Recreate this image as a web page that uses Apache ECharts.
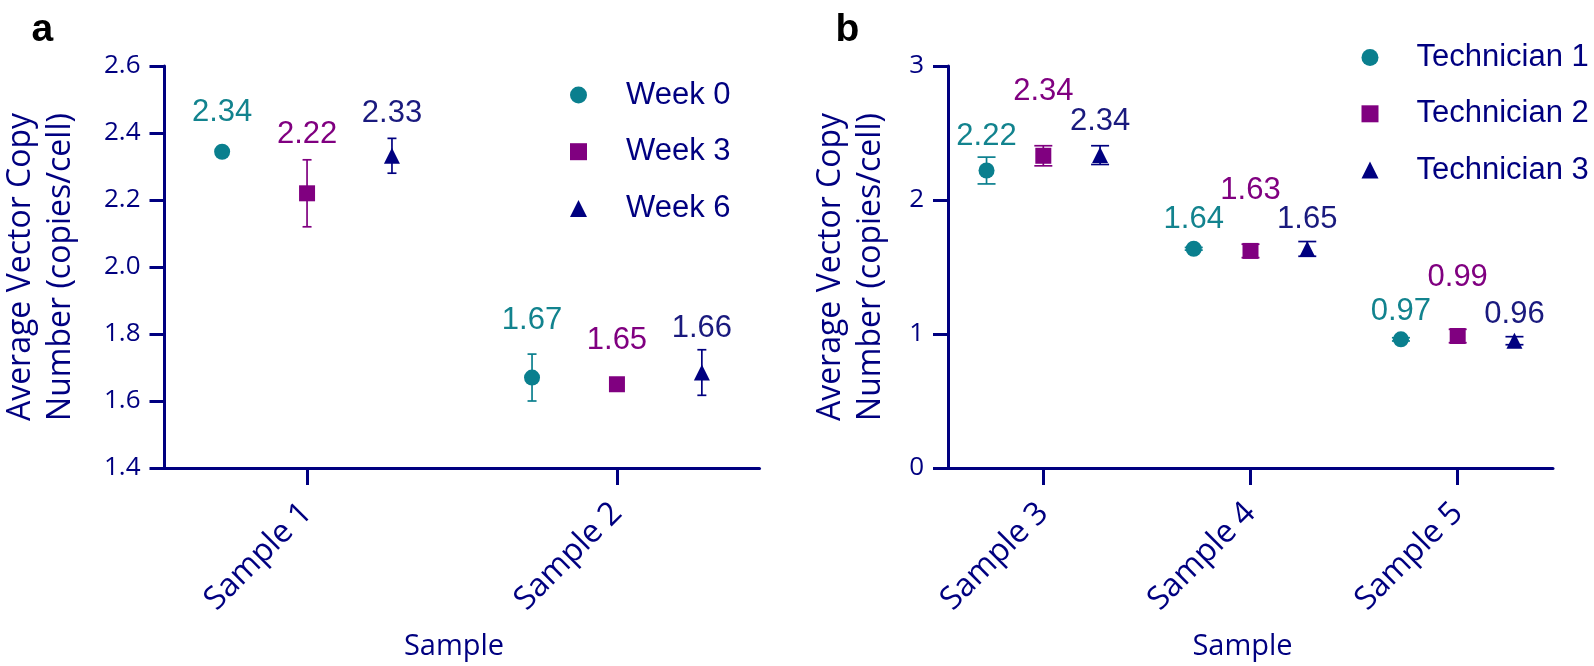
<!DOCTYPE html>
<html><head><meta charset="utf-8">
<script src="https://cdn.jsdelivr.net/npm/echarts@6/dist/echarts.min.js"></script>
<style>html,body{margin:0;padding:0;background:#fff}#c{width:1594px;height:666px}</style>
</head><body><div id="c"></div>
<script>
// ---------- data: panel a ----------
const samplesA = ['Sample 1', 'Sample 2'];
const groupsA = ['Week 0', 'Week 3', 'Week 6'];
const week0Mean = [2.344, 1.670];
const week0Sd = [0.012, 0.070];
const week0Labels = ['2.34', '1.67'];
const week3Mean = [2.220, 1.650];
const week3Sd = [0.100, 0.010];
const week3Labels = ['2.22', '1.65'];
const week6Mean = [2.332, 1.685];
const week6Sd = [0.052, 0.068];
const week6Labels = ['2.33', '1.66'];
const yTicksA = [1.4, 1.6, 1.8, 2.0, 2.2, 2.4, 2.6];

// ---------- data: panel b ----------
const samplesB = ['Sample 3', 'Sample 4', 'Sample 5'];
const groupsB = ['Technician 1', 'Technician 2', 'Technician 3'];
const tech1Mean = [2.220, 1.636, 0.960];
const tech1Sd = [0.100, 0.010, 0.012];
const tech1Labels = ['2.22', '1.64', '0.97'];
const tech2Mean = [2.330, 1.620, 0.985];
const tech2Sd = [0.075, 0.050, 0.050];
const tech2Labels = ['2.34', '1.63', '0.99'];
const tech3Mean = [2.335, 1.635, 0.950];
const tech3Sd = [0.070, 0.055, 0.030];
const tech3Labels = ['2.34', '1.65', '0.96'];
const yTicksB = [0, 1, 2, 3];

// ---------- layout / style ----------
const NAVY = '#000080';
const colors = ['#0a7f8e', '#800080', '#000080'];
const labelColors = ['#12838e', '#800080', '#1a1a7e'];
const symbols = ['circle', 'rect', 'triangle'];
const dodge = [-0.274, 0, 0.274];
const liftA = [[39, 57], [58.5, 44], [42, 44]];
const liftB = [[34, 29.5, 28], [64.4, 60.3, 59], [33.7, 29.6, 26.7]];
const TICKFONT = 'Open Sans';
const DATAFONT = 'Liberation Sans';

function errRender(capW, color) {
  return function (params, api) {
    const x = api.value(0), lo = api.value(1), hi = api.value(2);
    const p1 = api.coord([x, hi]), p2 = api.coord([x, lo]);
    const h = capW / 2;
    const st = { stroke: color, lineWidth: 1.7 };
    return { type: 'group', children: [
      { type: 'line', shape: { x1: p1[0], y1: p1[1], x2: p2[0], y2: p2[1] }, style: st },
      { type: 'line', shape: { x1: p1[0] - h, y1: p1[1], x2: p1[0] + h, y2: p1[1] }, style: st },
      { type: 'line', shape: { x1: p2[0] - h, y1: p2[1], x2: p2[0] + h, y2: p2[1] }, style: st }
    ]};
  };
}

function buildSeries(panel, names, means, sds, labels, lifts, capW) {
  const out = [];
  names.forEach((nm, s) => {
    out.push({
      type: 'custom', name: nm + ' err', xAxisIndex: panel, yAxisIndex: panel, z: 2,
      renderItem: errRender(capW, colors[s]),
      encode: { x: 0, y: [1, 2] },
      data: means[s].map((m, i) => [i + 1 + dodge[s], m - sds[s][i], m + sds[s][i]]),
      silent: true
    });
  });
  names.forEach((nm, s) => {
    out.push({
      type: 'scatter', name: nm, xAxisIndex: panel, yAxisIndex: panel, z: 3,
      symbol: symbols[s], symbolSize: 16,
      itemStyle: { color: colors[s], opacity: 1 },
      label: {
        show: true, position: 'inside',
        fontFamily: DATAFONT, fontSize: 31, color: labelColors[s],
        formatter: p => labels[s][p.dataIndex]
      },
      data: means[s].map((m, i) => ({ value: [i + 1 + dodge[s], m], label: { offset: [0, -lifts[s][i]] } }))
    });
  });
  return out;
}

function xAxis(gridIndex, cats) {
  const vals = cats.map((c, i) => i + 1);
  return {
    type: 'value', gridIndex: gridIndex, min: 0.54, max: cats.length + 0.46,
    splitLine: { show: false },
    axisLine: { show: true, onZero: false, lineStyle: { color: NAVY, width: 3 } },
    axisTick: { show: true, customValues: vals, length: 17, lineStyle: { color: NAVY, width: 3 } },
    axisLabel: {
      customValues: vals, rotate: 45, align: 'right', verticalAlign: 'middle', margin: 40,
      fontFamily: TICKFONT, fontSize: 32, color: NAVY,
      formatter: v => cats[Math.round(v) - 1]
    },
    name: 'Sample', nameLocation: 'middle', nameGap: 164, nameMoveOverlap: false,
    nameTextStyle: { fontFamily: TICKFONT, fontSize: 29, color: NAVY, padding: [0, 16, 0, 0] }
  };
}

function yAxis(gridIndex, ticks, decimals, gap) {
  return {
    type: 'value', gridIndex: gridIndex, min: ticks[0], max: ticks[ticks.length - 1],
    interval: ticks[1] - ticks[0],
    splitLine: { show: false },
    axisLine: { show: true, lineStyle: { color: NAVY, width: 3 } },
    axisTick: { show: true, length: 15, lineStyle: { color: NAVY, width: 3 } },
    axisLabel: { margin: 24, fontFamily: TICKFONT, fontSize: 26, color: NAVY,
      formatter: v => v.toFixed(decimals) },
    name: 'Average Vector Copy\nNumber (copies/cell)', nameLocation: 'middle', nameRotate: 90, nameGap: gap,
    nameTextStyle: { fontFamily: TICKFONT, fontSize: 32, lineHeight: 40, color: NAVY }
  };
}

function legend(names, left, top, gap, pad) {
  return {
    orient: 'vertical', left: left, top: top, padding: 0,
    itemWidth: 17, itemHeight: 17, itemGap: gap, selectedMode: false,
    data: names.map((n, s) => ({ name: n, icon: symbols[s] })),
    textStyle: { fontFamily: DATAFONT, fontSize: 31, color: NAVY, lineHeight: 32, padding: [0, 0, 0, pad] }
  };
}

const chart = echarts.init(document.getElementById('c'), null, { renderer: 'canvas' });
chart.setOption({
  animation: false,
  backgroundColor: '#fff',
  grid: [
    { left: 155, top: 66, width: 604.5, height: 403.5 },
    { left: 948, top: 66, width: 605, height: 403.5 }
  ],
  xAxis: [xAxis(0, samplesA), xAxis(1, samplesB)],
  yAxis: [yAxis(0, yTicksA, 1, 83.5), yAxis(1, yTicksB, 0, 56.7)],
  legend: [
    legend(groupsA, 570, 79, 24.7, 34),
    legend(groupsB, 1361.5, 41.5, 24.3, 33)
  ],
  graphic: [
    { type: 'text', x: 31.5, y: 30, style: { text: 'a', font: 'bold 39px "Liberation Sans"', fill: '#000', verticalAlign: 'middle' } },
    { type: 'text', x: 835.5, y: 30, style: { text: 'b', font: 'bold 39px "Liberation Sans"', fill: '#000', verticalAlign: 'middle' } }
  ],
  series: [].concat(
    buildSeries(0, groupsA, [week0Mean, week3Mean, week6Mean], [week0Sd, week3Sd, week6Sd],
      [week0Labels, week3Labels, week6Labels], liftA, 9),
    buildSeries(1, groupsB, [tech1Mean, tech2Mean, tech3Mean], [tech1Sd, tech2Sd, tech3Sd],
      [tech1Labels, tech2Labels, tech3Labels], liftB, 18)
  )
});
</script></body></html>
